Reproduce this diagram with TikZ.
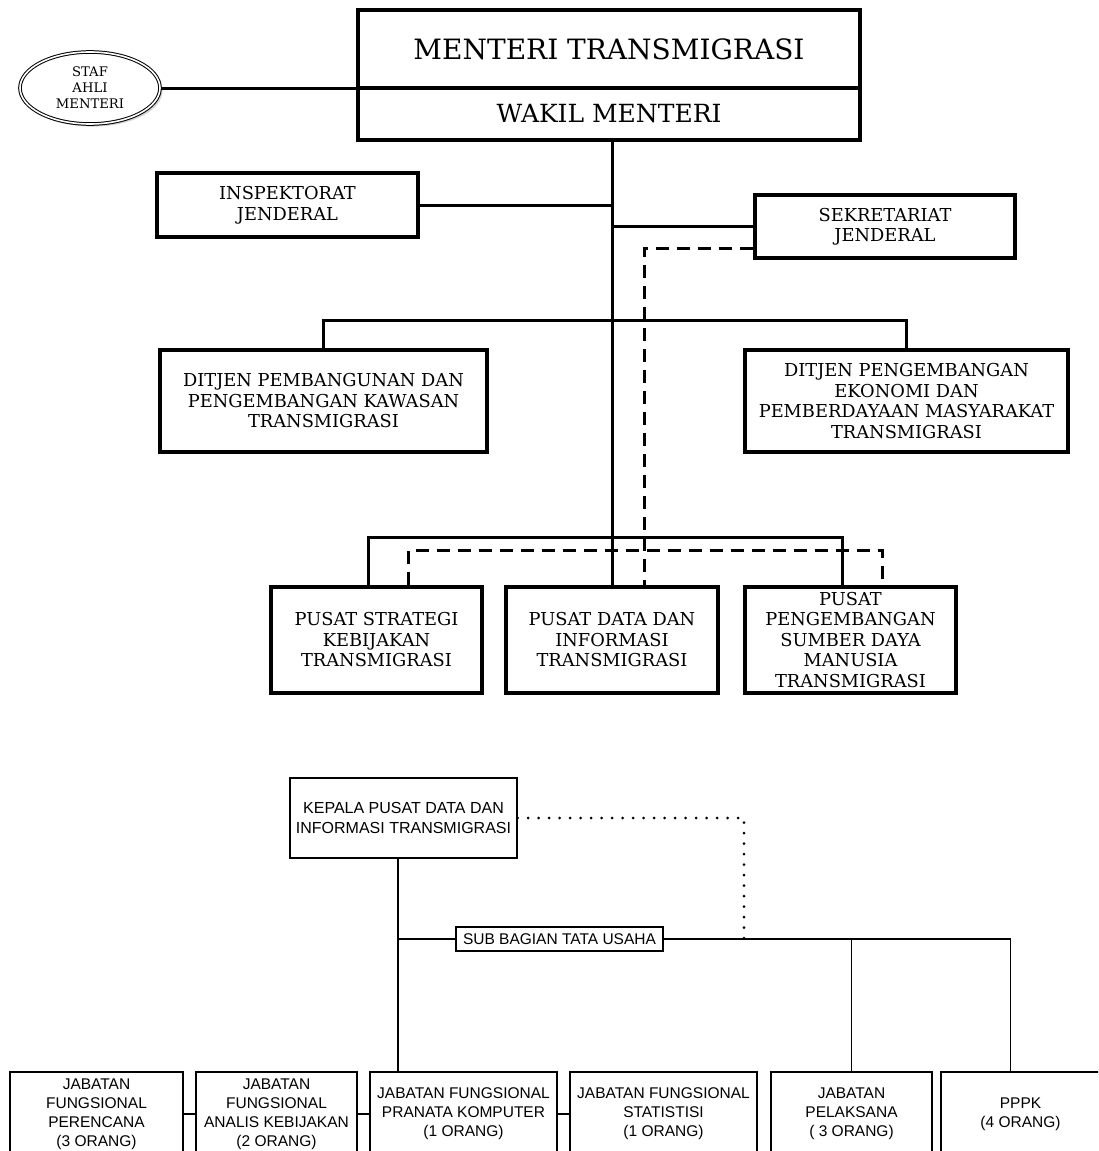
\documentclass[tikz,border=0pt]{standalone}
\usepackage{fontspec}
\setmainfont{DejaVu Serif}
\newfontfamily\helv{Liberation Sans}
\usetikzlibrary{shapes.geometric,shadows}
\tikzset{
  unitbox/.style={draw,line width=3.2pt,align=center,inner sep=2pt,font=\fontsize{17.8}{20.5}\selectfont},
  tline/.style={line width=3pt},
  tdash/.style={line width=3pt,dash pattern=on 13pt off 8pt},
  sbox/.style={draw,line width=1.1pt,align=center,inner sep=1pt,font=\helv\fontsize{15.5}{19}\selectfont},
  sline/.style={line width=1.1pt},
  dotline/.style={line width=3pt,line cap=round,dash pattern=on 0pt off 10.5pt},
}
\begin{document}
\begin{tikzpicture}[x=1pt,y=-1pt]
\useasboundingbox (0,0) rectangle (1098,1151);
\clip (0,0) rectangle (1098,1151);

% bagian atas: struktur kementerian
\begin{scope}
\node[unitbox,minimum width=502,minimum height=78,font=\fontsize{28}{32}\selectfont] (menteri) at (609,49) {MENTERI TRANSMIGRASI};
\node[unitbox,minimum width=502,minimum height=52,font=\fontsize{25}{28}\selectfont] (wakil) at (609,114) {WAKIL MENTERI};
\node[draw,ellipse,double,double distance=1.6pt,line width=1pt,fill=white,drop shadow={opacity=0.35},minimum width=140,minimum height=72,inner sep=0pt,align=center,font=\fontsize{13.2}{16}\selectfont] (staf) at (90,88) {STAF\\AHLI\\MENTERI};
\node[unitbox,minimum width=261,minimum height=64] (insp) at (287.5,205) {INSPEKTORAT\\JENDERAL};
\node[unitbox,minimum width=260,minimum height=63] (sekr) at (885,226.5) {SEKRETARIAT\\JENDERAL};
\node[unitbox,minimum width=327,minimum height=102] (djpk) at (323.5,401) {DITJEN PEMBANGUNAN DAN\\PENGEMBANGAN KAWASAN\\TRANSMIGRASI};
\node[unitbox,minimum width=323,minimum height=102] (djpem) at (906.5,401) {DITJEN PENGEMBANGAN\\EKONOMI DAN\\PEMBERDAYAAN MASYARAKAT\\TRANSMIGRASI};
\node[unitbox,minimum width=211,minimum height=106] (pstrat) at (376.5,640) {PUSAT STRATEGI\\KEBIJAKAN\\TRANSMIGRASI};
\node[unitbox,minimum width=212,minimum height=106] (pdata) at (612,640) {PUSAT DATA DAN\\INFORMASI\\TRANSMIGRASI};
\node[unitbox,minimum width=211,minimum height=106] (psdm) at (850.5,640) {PUSAT\\PENGEMBANGAN\\SUMBER DAYA\\MANUSIA\\TRANSMIGRASI};

\draw[tline] (staf.east) -- (staf.east -| menteri.west);
\draw[tline] (pdata.north |- wakil.south) -- (pdata.north);
\draw[tline] (insp.east) -- (insp.east -| pdata.north);
\draw[tline] (sekr.west) -- (sekr.west -| pdata.north);
\draw[tdash] ([yshift=-22pt]sekr.west) -| ([xshift=32pt]pdata.north);
\draw[tline] (djpk.north) -- ++(0,-28) -| (djpem.north);
\draw[tline] ([xshift=-8pt]pstrat.north) -- ++(0,-48) -| ([xshift=-8pt]psdm.north);
\draw[tdash] ([xshift=32pt]pstrat.north) -- ++(0,-35) -| ([xshift=32pt]psdm.north);
\end{scope}

% bagian bawah: pusat data dan informasi
\begin{scope}
\node[sbox,minimum width=227,minimum height=80,font=\helv\fontsize{16}{20}\selectfont] (kepala) at (403.5,818) {KEPALA PUSAT DATA DAN\\INFORMASI TRANSMIGRASI};
\node[sbox,minimum width=207,minimum height=24,inner sep=0pt] (subbag) at (559.5,939) {SUB BAGIAN TATA USAHA};
\node[sbox,minimum width=173,minimum height=84] (perencana) at (96.5,1114) {JABATAN\\FUNGSIONAL\\PERENCANA\\(3 ORANG)};
\node[sbox,minimum width=161,minimum height=84] (analis) at (276.5,1114) {JABATAN\\FUNGSIONAL\\ANALIS KEBIJAKAN\\(2 ORANG)};
\node[sbox,minimum width=187,minimum height=84] (pranata) at (463.5,1114) {JABATAN FUNGSIONAL\\PRANATA KOMPUTER\\(1 ORANG)};
\node[sbox,minimum width=187,minimum height=84] (statistisi) at (663.5,1114) {JABATAN FUNGSIONAL\\STATISTISI\\(1 ORANG)};
\node[sbox,minimum width=161,minimum height=84] (pelaksana) at (851.5,1114) {JABATAN\\PELAKSANA\\( 3 ORANG)};
\node[sbox,minimum width=159,minimum height=84] (pppk) at (1020.5,1114) {PPPK\\(4 ORANG)};
\coordinate (cabang) at (744,939);

\draw[sline] ([xshift=-5.5pt]kepala.south) -- ([xshift=-5.5pt]kepala.south |- pranata.north);
\draw[sline] ([xshift=-5.5pt]kepala.south |- subbag.west) -- (subbag.west);
\draw[sline] (subbag.east) -| ([xshift=-10pt]pppk.north);
\draw[sline] (subbag.east -| pelaksana.north) -- (pelaksana.north);
\draw[dotline] (kepala.east) -| (cabang);
\draw[sline] (perencana.east) -- (analis.west);
\draw[sline] (analis.east) -- (pranata.west);
\draw[sline] (pranata.east) -- (statistisi.west);
\end{scope}
\end{tikzpicture}
\end{document}
